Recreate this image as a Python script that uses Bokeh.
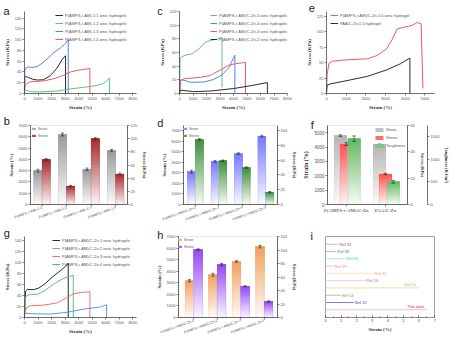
from bokeh.plotting import figure
from bokeh.models import (Range1d, LinearAxis, FixedTicker, Legend, LegendItem,
                          ColumnDataSource, SingleIntervalTicker)
from bokeh.layouts import row, column
from bokeh.embed import file_html
from bokeh.resources import INLINE
from bokeh.core.properties import value

# ----------------------------- data -----------------------------
# panel a : stress-strain curves
a_names = ["P(AMPS-r-AM)-1:1 ionic hydrogels", "P(AMPS-r-AM)-1:2 ionic hydrogels",
           "P(AMPS-r-AM)-1:3 ionic hydrogels", "P(AMPS-r-AM)-1:4 ionic hydrogels"]
a_k_x = [0, 20, 80, 300, 600, 950, 1400, 1900, 2400, 2780, 2950, 3030, 3030]
a_k_y = [0, 30, 32, 29.5, 26.5, 25, 25.5, 33, 47, 63, 68.5, 70, 0]
a_g_x = [0, 440, 1180, 2410, 3400, 4380, 5370, 5860, 6280, 6280]
a_g_y = [6.9, 3.4, 2.9, 4.6, 8.6, 11.4, 14.9, 19, 28.6, 0]
a_b_x = [0, 20, 80, 300, 690, 935, 1300, 1800, 2170, 2660, 3030, 3230, 3230]
a_b_y = [0, 42, 47, 49, 48.6, 50, 56, 67, 76, 84.6, 93, 100, 0]
a_r_x = [0, 50, 200, 440, 1430, 2170, 2900, 3400, 4010, 4830, 4830]
a_r_y = [7, 15, 19, 21.7, 23.4, 27.4, 34, 40, 43.4, 46.3, 0]

# panel c
c_names = ["P(AMPS-r-AM)/C-Zn-5 ionic hydrogels", "P(AMPS-r-AM)/C-Zn-4 ionic hydrogels",
           "P(AMPS-r-AM)/C-Zn-3 ionic hydrogels", "P(AMPS-r-AM)/C-Zn-2 ionic hydrogels"]
c_g_x = [0, 50, 175, 420, 920, 1420, 1910, 2290, 2780, 3150, 3150]
c_g_y = [0, 51, 53.6, 56, 58, 65, 75, 77.7, 79.5, 82, 9]
c_b_x = [0, 50, 300, 800, 1790, 2530, 3150, 3650, 4100, 4100]
c_b_y = [0, 19.5, 19.5, 16.4, 16.8, 20.5, 27.3, 37.7, 56, 0]
c_r_x = [0, 100, 420, 1540, 2290, 3030, 3650, 4150, 4890, 4890]
c_r_y = [0, 19.5, 21.8, 23.6, 26.4, 34.5, 41.4, 43.6, 45.5, 0]
c_k_x = [0, 50, 1040, 2290, 4020, 5270, 6510, 6510]
c_k_y = [0, 5, 2.7, 3.6, 7.3, 11.4, 16, 0]

# panel e
e_names = ["P(AMPS-r-AM)/C-Zn-0.5 ionic hydrogel", "PAA/C-Zn-0.5 hydrogel"]
e_r_x = [0, 30, 120, 290, 880, 2070, 2580, 3050, 3340, 3590, 3930, 4360, 4610, 4810, 4900]
e_r_y = [0, 30, 48.4, 52, 54, 56, 61.5, 72, 87.5, 104, 107, 110, 114.6, 112.5, 8.3]
e_k_x = [0, 30, 200, 880, 2070, 3050, 3760, 4240, 4240]
e_k_y = [0, 13.5, 15.6, 19.8, 27.6, 38, 48, 57.3, 0]

# panel g
g_names = ["P(AMPS-r-AM)/C-Zn-1 ionic hydrogels", "P(AMPS-r-AM)/C-Zn-2 ionic hydrogels",
           "P(AMPS-r-AM)/C-Zn-3 ionic hydrogels", "P(AMPS-r-AM)/C-Zn-4 ionic hydrogels"]
g_k_x = [0, 75, 200, 690, 1060, 1550, 2040, 2540, 2910, 3230, 3230]
g_k_y = [0, 48, 51, 51, 53.8, 62.3, 73.7, 83.3, 90.7, 99, 0]
g_g_x = [0, 75, 320, 940, 1430, 1920, 2410, 2910, 3400, 3600, 3600]
g_g_y = [0, 38, 41.4, 42.5, 48, 56.7, 65, 72, 75.4, 77.6, 0]
g_r_x = [0, 200, 440, 1430, 2410, 3150, 3650, 4260, 4830, 4830]
g_r_y = [9.6, 18.7, 21.5, 22.7, 26.6, 36.8, 43.6, 45.9, 47, 0]
g_b_x = [0, 75, 690, 1920, 3150, 4380, 5620, 6060, 6060]
g_b_y = [6.8, 7.9, 6.8, 6.2, 9.6, 15.3, 19.3, 23.2, 0]

# panel b : bars
b_cats = ["P(AMPS-r-AM)-1:1", "P(AMPS-r-AM)-1:2", "P(AMPS-r-AM)-1:3", "P(AMPS-r-AM)-1:4"]
b_strain = [3000, 6210, 3120, 4780]
b_strain_err = [120, 130, 110, 90]
b_stress = [68.5, 28, 100, 46.5]
b_stress_err = [1.2, 1.0, 1.5, 1.2]

# panel d
d_cats = ["P(AMPS-r-AM)/C-Zn-2", "P(AMPS-r-AM)/C-Zn-3", "P(AMPS-r-AM)/C-Zn-4", "P(AMPS-r-AM)/C-Zn-5"]
d_strain = [3110, 4070, 4810, 6475]
d_strain_err = [140, 90, 80, 70]
d_stress = [87.7, 59, 49.8, 16.7]
d_stress_err = [1.2, 1.0, 1.0, 0.8]

# panel f
f_cats = ["P(AMPS-r-AM)/C-Zn", "PAA/C-Zn"]
f_strain = [4790, 4170]
f_strain_err = [60, 40]
f_stress = [45.9, 23.2]
f_stress_err = [1.0, 0.5]
f_tough = [1453, 502]
f_tough_err = [60, 30]

# panel h
h_cats = ["P(AMPS-r-AM)/C-Zn-1", "P(AMPS-r-AM)/C-Zn-2", "P(AMPS-r-AM)/C-Zn-3", "P(AMPS-r-AM)/C-Zn-4"]
h_strain = [3180, 3700, 4840, 6130]
h_strain_err = [90, 120, 60, 110]
h_stress = [100.7, 78.6, 46.2, 23.6]
h_stress_err = [1.0, 1.5, 0.8, 1.2]

# panel i : comparison
i_refs = ["Ref 31", "Ref 38", "Ref 25", "Ref 19", "Ref 32", "Ref 16", "Ref 11", "Ref 14", "Ref 12", "This work"]
i_vals = [0.84, 0.69, 1.27, 0.52, 3.1, 2.56, 6.0, 0.99, 1.81, 6.54]
i_line_colors = ["#bdbdbd", "#9ad89a", "#b5e3f5", "#f8c6c6", "#fbe0c8", "#f4c4f4",
                 "#d6ec9f", "#cdb0b0", "#7c7cf0", "#ffbcbc"]
i_text_colors = ["#666666", "#3aa03a", "#4fb8e8", "#e88080", "#f0a060", "#d84fe0",
                 "#9acd32", "#b8860b", "#3434d0", "#e83030"]

SANS = "Liberation Sans"
SERIF = "Liberation Serif"
BLACK, GREEN, BLUE, RED = "#2b2b2b", "#5cc47a", "#4f86e8", "#f25a5a"


def rgb(h):
    h = h.lstrip("#")
    return tuple(int(h[i:i + 2], 16) for i in (0, 2, 4))


def mix(c, t):
    return "#%02x%02x%02x" % tuple(int(round(255 + (v - 255) * t)) for v in rgb(c))


def make_fig(cell, frame, xr, yr, ch):
    x0, y0, w, h = cell
    l, t, r, b = frame
    bl, bt = int(round(l - x0)), int(round(t - y0))
    br, bb = int(round(x0 + w - r)), int(round(y0 + h - b))
    p = figure(width=w, height=h, x_range=xr, y_range=yr, output_backend="svg", title=ch,
               toolbar_location=None, min_border_left=bl, min_border_top=bt,
               min_border_right=br, min_border_bottom=bb)
    p.xgrid.visible = False
    p.ygrid.visible = False
    p.outline_line_color = None
    p.background_fill_color = "white"
    p.border_fill_color = "white"
    info = dict(fl=x0 + bl, ft=y0 + bt, fr=x0 + w - br, fb=y0 + h - bb)
    return p, info


def letter(p, info, left, base, fs=11):
    # panel letter drawn as the figure title, pulled into the top-left corner
    d = base - info["ft"]
    p.title.align = "left"
    p.title.vertical_align = "bottom"
    p.title.offset = left - info["fl"]
    p.title.standoff = int(round(-2 * d))
    p.title.text_font = SANS
    p.title.text_font_size = "%dpx" % fs
    p.title.text_font_style = "normal"
    p.title.text_color = "#1a1a1a"


def style_axis(ax, label_size="5px", tick_size="4px", tick_color="#555555"):
    ax.axis_line_color = "#333333"
    ax.axis_line_width = 0.7
    ax.major_tick_line_color = "#333333"
    ax.major_tick_line_width = 0.6
    ax.major_tick_in = 0
    ax.major_tick_out = 2
    ax.minor_tick_line_color = None
    ax.major_label_text_font = SANS
    ax.major_label_text_font_size = tick_size
    ax.major_label_text_color = tick_color
    ax.major_label_standoff = 1
    ax.axis_label_text_font = SERIF
    ax.axis_label_text_font_style = "bold"
    ax.axis_label_text_font_size = label_size
    ax.axis_label_text_color = "#333333"
    ax.axis_label_standoff = 2


def legend(p, info, items, left, lh, sp, gw, gh=4, fs="4px", standoff=2):
    # legend flush with the frame's top-right corner; its width fixed by label_width
    lw = int(round(info["fr"] - left - gw - standoff))
    lg = Legend(items=items, location="top_right", orientation="vertical",
                glyph_width=gw, glyph_height=gh, label_height=lh, label_width=lw,
                spacing=sp, padding=0, margin=0, label_standoff=standoff,
                label_text_font=SANS, label_text_font_size=fs, label_text_color="#555555",
                border_line_color=None, background_fill_alpha=0)
    p.add_layout(lg)


def grad_bars(p, xs, tops, width, color, rname="default", n=20):
    X, B, T, C = [], [], [], []
    for x, t in zip(xs, tops):
        for k in range(n):
            X.append(x)
            B.append(t * k / n)
            T.append(t)
            C.append(mix(color, 0.04 + 0.96 * (k + 0.5) / n))
    src = ColumnDataSource(dict(x=X, bottom=B, top=T, color=C))
    r = p.vbar(x="x", bottom="bottom", top="top", width=width, fill_color="color",
               line_color=None, source=src, y_range_name=rname)
    p.vbar(x=xs, bottom=0, top=tops, width=width, fill_color=None, line_color=color,
           line_alpha=0.35, line_width=0.6, y_range_name=rname)
    return r


def err_bars(p, xs, tops, errs, capw, rname="default"):
    lo = [t - e for t, e in zip(tops, errs)]
    hi = [t + e for t, e in zip(tops, errs)]
    kw = dict(line_color="#222222", line_width=0.6, y_range_name=rname)
    p.segment(x0=xs, y0=lo, x1=xs, y1=hi, **kw)
    p.segment(x0=[x - capw for x in xs], y0=hi, x1=[x + capw for x in xs], y1=hi, **kw)
    p.segment(x0=[x - capw for x in xs], y0=lo, x1=[x + capw for x in xs], y1=lo, **kw)


def line_panel(cell, frame, xr, yr, xint, yint, ch):
    p, info = make_fig(cell, frame, xr, yr, ch)
    style_axis(p.xaxis[0])
    style_axis(p.yaxis[0])
    p.xaxis.ticker = SingleIntervalTicker(interval=xint, num_minor_ticks=0)
    p.yaxis.ticker = SingleIntervalTicker(interval=yint, num_minor_ticks=0)
    p.xaxis.axis_label = "Strain (%)"
    p.yaxis.axis_label = "Stress (KPa)"
    return p, info


# ----------------------------- panel a -----------------------------
pA, iA = line_panel((0, 0, 150, 112), (24, 8, 136, 96), Range1d(0, 8270), Range1d(0, 152.1), 1000, 20, "a")
ra = [pA.line(a_k_x, a_k_y, line_color=BLACK, line_width=1),
      pA.line(a_g_x, a_g_y, line_color=GREEN, line_width=1),
      pA.line(a_b_x, a_b_y, line_color=BLUE, line_width=1),
      pA.line(a_r_x, a_r_y, line_color=RED, line_width=1)]
legend(pA, iA, [LegendItem(label=n, renderers=[r]) for n, r in zip(a_names, ra)], 55, 8, -2, 8)
letter(pA, iA, 3, 13)

# ----------------------------- panel c -----------------------------
pC, iC = line_panel((150, 0, 150, 112), (179, 8, 287, 96), Range1d(0, 8000), Range1d(0, 120), 1000, 20, "c")
rc = [pC.line(c_g_x, c_g_y, line_color=GREEN, line_width=1),
      pC.line(c_b_x, c_b_y, line_color=BLUE, line_width=1),
      pC.line(c_r_x, c_r_y, line_color=RED, line_width=1),
      pC.line(c_k_x, c_k_y, line_color=BLACK, line_width=1)]
legend(pC, iC, [LegendItem(label=n, renderers=[r]) for n, r in zip(c_names, rc)], 211.7, 8, -2, 7)
letter(pC, iC, 156.7, 13.3)

# ----------------------------- panel e -----------------------------
pE, iE = line_panel((300, 0, 152, 112), (326, 11, 434, 96), Range1d(0, 5490), Range1d(0, 132.4), 1000, 25, "e")
re_ = [pE.line(e_r_x, e_r_y, line_color=RED, line_width=1),
       pE.line(e_k_x, e_k_y, line_color=BLACK, line_width=1)]
legend(pE, iE, [LegendItem(label=n, renderers=[r]) for n, r in zip(e_names, re_)], 330, 8, -2, 8)
letter(pE, iE, 308.3, 11.7)

# ----------------------------- panel g -----------------------------
pG, iG = line_panel((0, 226, 150, 115), (24, 236, 136, 323), Range1d(0, 8270), Range1d(0, 148.0), 1000, 20, "g")
rg = [pG.line(g_k_x, g_k_y, line_color=BLACK, line_width=1),
      pG.line(g_g_x, g_g_y, line_color=GREEN, line_width=1),
      pG.line(g_r_x, g_r_y, line_color="#f47070", line_width=1),
      pG.line(g_b_x, g_b_y, line_color="#5a9ae8", line_width=1)]
legend(pG, iG, [LegendItem(label=n, renderers=[r]) for n, r in zip(g_names, rg)], 51.7, 8, -2, 8)
letter(pG, iG, 3.3, 238.5)


# ----------------------------- bar panels -----------------------------
def bar_panel(cell, frame, xr, ymax, rmax, rint, cats, strain, s_err, stress, st_err,
              c1, c2, width, leg_left, ch, ch_xy):
    groups = list(range(1, len(cats) + 1))
    p, info = make_fig(cell, frame, xr, Range1d(0, ymax), ch)
    p.extra_y_ranges = {"r": Range1d(0, rmax)}
    style_axis(p.xaxis[0], tick_size="3.5px")
    style_axis(p.yaxis[0])
    p.outline_line_color = "#d8d8d8"
    p.outline_line_width = 0.6
    p.xaxis.ticker = FixedTicker(ticks=groups)
    p.xaxis.major_label_overrides = {g: c for g, c in zip(groups, cats)}
    p.xaxis.major_label_orientation = 0.35
    p.yaxis.ticker = SingleIntervalTicker(interval=1000, num_minor_ticks=0)
    p.yaxis.axis_label = "Strain (%)"
    ra_ = LinearAxis(y_range_name="r", axis_label="Stress (KPa)")
    style_axis(ra_)
    ra_.ticker = SingleIntervalTicker(interval=rint, num_minor_ticks=0)
    p.add_layout(ra_, "right")
    xs1 = [g - width / 2 for g in groups]
    xs2 = [g + width / 2 for g in groups]
    r1 = grad_bars(p, xs1, strain, width, c1)
    r2 = grad_bars(p, xs2, stress, width, c2, rname="r")
    err_bars(p, xs1, strain, s_err, width * 0.18)
    err_bars(p, xs2, stress, st_err, width * 0.18, rname="r")
    legend(p, info, [LegendItem(label="Strain", renderers=[r1], index=16),
                     LegendItem(label="Stress", renderers=[r2], index=16)],
           leg_left, 7, -2, 5, gh=3, fs="3.5px")
    letter(p, info, *ch_xy)
    return p


pB = bar_panel((0, 112, 150, 114), (30, 125, 128, 205), Range1d(0.53, 4.48), 7000, 120, 20,
               b_cats, b_strain, b_strain_err, b_stress, b_stress_err, "#9a9a9a", "#a52a2a",
               0.335, 31.7, "b", (3.3, 126.7))
pD = bar_panel((150, 112, 150, 114), (183, 125, 283, 206), Range1d(0.49, 4.5), 7470, 106.6, 20,
               d_cats, d_strain, d_strain_err, d_stress, d_stress_err, "#7878ff", "#3e8e3e",
               0.334, 188, "d", (156.7, 128.3))
pH = bar_panel((150, 226, 150, 115), (178, 236, 285, 317), Range1d(0.35, 4.56), 7000, 120, 20,
               h_cats, h_strain, h_strain_err, h_stress, h_stress_err, "#f2a060", "#9448f5",
               0.366, 185, "h", (156.7, 240))

# ----------------------------- panel f -----------------------------
pF, iF = make_fig((300, 112, 152, 114), (324, 125, 418, 213), Range1d(0.52, 2.565), Range1d(0, 5500), "f")
pF.extra_y_ranges = {"s": Range1d(0, 60), "t": Range1d(0, 1744)}
style_axis(pF.xaxis[0], label_size="5px", tick_size="5px", tick_color="#333333")
style_axis(pF.yaxis[0], label_size="6px", tick_size="4.5px")
pF.outline_line_color = "#d8d8d8"
pF.outline_line_width = 0.6
pF.xaxis.ticker = FixedTicker(ticks=[1, 2])
pF.xaxis.major_label_overrides = {1: f_cats[0], 2: f_cats[1]}
pF.xaxis.major_label_text_font = SERIF
pF.yaxis.ticker = SingleIntervalTicker(interval=1000, num_minor_ticks=0)
pF.yaxis.axis_label = "Strain (%)"
ax_s = LinearAxis(y_range_name="s", axis_label="Stress (KPa)")
style_axis(ax_s, label_size="4.5px", tick_size="4px")
ax_s.ticker = SingleIntervalTicker(interval=20, num_minor_ticks=0)
ax_t = LinearAxis(y_range_name="t", axis_label="Toughness (KJ/m³)")
style_axis(ax_t, label_size="4.5px", tick_size="4px")
ax_t.ticker = SingleIntervalTicker(interval=500, num_minor_ticks=0)
pF.add_layout(ax_s, "right")
pF.add_layout(ax_t, "right")
# each quantity sits on its own y axis, so the three bar layers overlap partly
fw = 0.315
f_groups = [1, 2]
xf1 = [g - 0.15 for g in f_groups]
xf2 = list(f_groups)
xf3 = [g + 0.2 for g in f_groups]
rf1 = grad_bars(pF, xf1, f_strain, fw, "#b4b4b4")
rf2 = grad_bars(pF, xf2, f_stress, fw, "#ff4f4f", rname="s")
rf3 = grad_bars(pF, xf3, f_tough, fw, "#62b862", rname="t")
err_bars(pF, xf1, f_strain, f_strain_err, fw * 0.15)
err_bars(pF, xf2, f_stress, f_stress_err, fw * 0.15, rname="s")
err_bars(pF, xf3, f_tough, f_tough_err, fw * 0.15, rname="t")
legend(pF, iF, [LegendItem(label="Strain", renderers=[rf1], index=16),
                LegendItem(label="Stress", renderers=[rf2], index=16),
                LegendItem(label="Toughness", renderers=[rf3], index=16)],
       385, 8, -2, 10, gh=5, fs="4px")
letter(pF, iF, 307.3, 130)

# ----------------------------- panel i -----------------------------
n_i = len(i_refs)
pI, iI = make_fig((300, 226, 152, 115), (325, 235, 434, 323), Range1d(0, 7), Range1d(-0.06, n_i + 1.06), "i")
style_axis(pI.xaxis[0])
pI.yaxis.visible = False
pI.outline_line_color = "#8a8a8a"
pI.outline_line_width = 0.8
pI.xaxis.ticker = SingleIntervalTicker(interval=1, num_minor_ticks=2)
pI.xaxis.major_tick_in = 2
pI.xaxis.major_tick_out = 0
pI.xaxis.minor_tick_line_color = "#555555"
pI.xaxis.minor_tick_in = 1
pI.xaxis.minor_tick_out = 0
pI.xaxis.axis_label = "Strain (%)"
pI.xaxis.axis_line_color = "#8a8a8a"
i_y = [n_i - k for k in range(n_i)]
pI.segment(x0=[0] * n_i, y0=i_y, x1=i_vals, y1=i_y, line_color=i_line_colors, line_width=1)
long_ = [v > 5 for v in i_vals]
src_i = ColumnDataSource(dict(x=i_vals, y=i_y, text=i_refs, color=i_text_colors,
                              align=["right" if lg else "left" for lg in long_],
                              xo=[-3 if lg else 1 for lg in long_],
                              yo=[-3 if lg else 0 for lg in long_]))
pI.text(x="x", y="y", text="text", source=src_i, text_color="color", text_align="align",
        x_offset="xo", y_offset="yo", text_baseline="middle", text_font=value(SANS),
        text_font_size=value("4px"))
letter(pI, iI, 310, 240)

layout = column(row(pA, pC, pE), row(pB, pD, pF), row(pG, pH, pI))
open("out.html", "w").write(file_html(layout, INLINE))
